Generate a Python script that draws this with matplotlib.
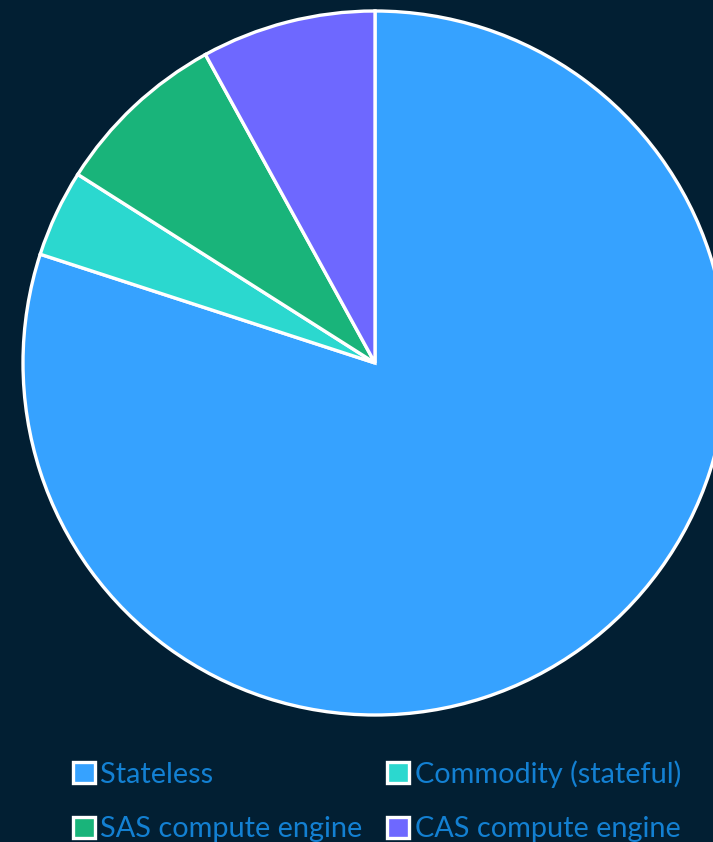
import matplotlib
matplotlib.use("Agg")
import matplotlib.pyplot as plt

labels = ["Stateless", "Commodity (stateful)", "SAS compute engine", "CAS compute engine"]
values = [80, 4, 8, 8]
colors = ["#36A2FF", "#2BD8CF", "#19B47A", "#6E68FF"]
bg = "#021F33"

fig = plt.figure(figsize=(7.13, 8.42), dpi=100, facecolor=bg)
ax = fig.add_axes([0, 0, 1, 1])
ax.set_facecolor(bg)

wedges, _ = ax.pie(values, colors=colors, startangle=90, counterclock=False,
                   center=(375, 479), radius=352, frame=True,
                   wedgeprops=dict(edgecolor="white", linewidth=2.4))
ax.set_xlim(0, 713)
ax.set_ylim(0, 842)
ax.axis("off")

# legend fills row by row in the original
order = [0, 2, 1, 3]
leg = ax.legend([wedges[i] for i in order], [labels[i] for i in order],
                ncol=2, loc="upper left",
                bbox_to_anchor=(73 / 713, 1 - 760 / 842), frameon=False,
                prop={"family": ["Lato", "DejaVu Sans"], "size": 20.8},
                labelcolor="#1380D2", handlelength=0.75, handleheight=0.75,
                handletextpad=0.2, columnspacing=0.85, labelspacing=1.0,
                borderpad=0, borderaxespad=0)

fig.savefig("out.png", dpi=100, facecolor=bg)
